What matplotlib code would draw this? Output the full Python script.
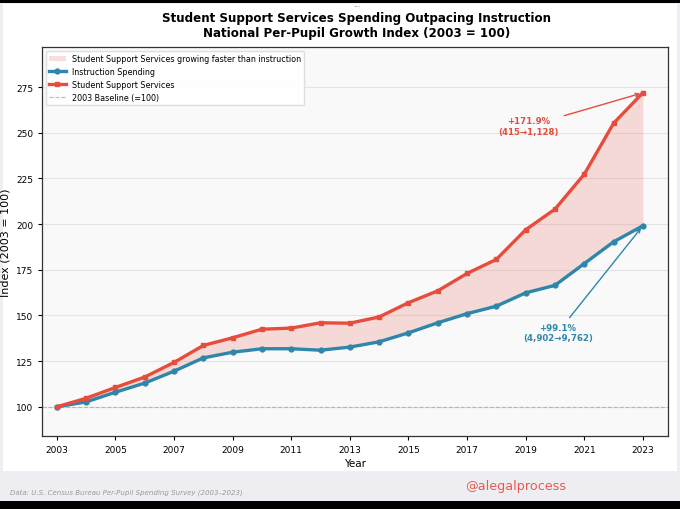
import numpy as np
import matplotlib
matplotlib.use('Agg')
import matplotlib.pyplot as plt
from matplotlib.patches import Rectangle

RED = '#e74c3c'
BLUE = '#2e86ab'

years = list(range(2003, 2024))
instruction = [100, 102.7, 108.0, 113.0, 119.5, 126.8, 129.9, 131.8, 131.8, 131.0,
               132.7, 135.6, 140.5, 146.0, 151.0, 155.1, 162.4, 166.5, 178.4, 190.3, 199.1]
support = [100, 104.7, 110.6, 116.3, 124.3, 133.6, 137.8, 142.5, 143.1, 146.0,
           145.8, 149.2, 157.0, 163.5, 173.0, 180.7, 196.9, 208.2, 227.3, 255.2, 271.9]

ins_label = '+99.1%\n(4,902\u21929,762)'
sup_label = '+171.9%\n(415\u21921,128)'

fig = plt.figure(figsize=(6.8, 5.1), dpi=100)
fig.patch.set_facecolor('#eeeef2')
# white panel behind the chart
fig.patches.append(Rectangle((0.005, 0.075), 0.99, 0.915, transform=fig.transFigure,
                             facecolor='white', edgecolor='none', zorder=-10))
# screenshot bars
fig.patches.append(Rectangle((0, 0), 1, 0.016, transform=fig.transFigure,
                             facecolor='black', edgecolor='none', zorder=-5))
fig.patches.append(Rectangle((0, 0.992), 1, 0.008, transform=fig.transFigure,
                             facecolor='black', edgecolor='none', zorder=-5))

ax = fig.add_axes([0.062, 0.143, 0.92, 0.763])
ax.set_facecolor('#f9f9f9')

x = np.array(years)
ins = np.array(instruction)
sup = np.array(support)

ax.fill_between(x, ins, sup, where=sup >= ins, color=RED, alpha=0.18, linewidth=0,
                label='Student Support Services growing faster than instruction')
ax.plot(x, ins, color=BLUE, lw=2.4, marker='o', ms=3.5, label='Instruction Spending', zorder=3)
ax.plot(x, sup, color=RED, lw=2.4, marker='s', ms=3.5, label='Student Support Services', zorder=3)
ax.axhline(100, color='#aaaaaa', lw=0.8, ls='--', alpha=0.8, label='2003 Baseline (=100)')

ax.annotate(sup_label, xy=(2023, sup[-1]), xytext=(2019.1, 259), color=RED,
            fontsize=6.2, fontweight='bold', ha='center', va='top',
            arrowprops=dict(arrowstyle='->', color=RED, lw=1))
ax.annotate(ins_label, xy=(2023, ins[-1]), xytext=(2020.1, 135.5), color=BLUE,
            fontsize=6.2, fontweight='bold', ha='center', va='bottom',
            arrowprops=dict(arrowstyle='->', color=BLUE, lw=1))

ax.set_xlim(2002.5, 2023.85)
ax.set_ylim(84, 297)
ax.set_xticks(years[::2])
ax.set_yticks([100, 125, 150, 175, 200, 225, 250, 275])
ax.tick_params(labelsize=6.5, length=3)
ax.yaxis.grid(True, color='#e4e4e4', lw=0.8)
ax.set_axisbelow(True)
ax.set_xlabel('Year', fontsize=7.5, labelpad=3)
ax.set_ylabel('Index (2003 = 100)', fontsize=8, labelpad=4)
for s in ax.spines.values():
    s.set_color('#333333')
    s.set_linewidth(0.9)

ax.legend(loc='upper left', fontsize=5.8, framealpha=0.95, edgecolor='#dddddd')

fig.text(0.525, 0.977, 'Student Support Services Spending Outpacing Instruction\n'
         'National Per-Pupil Growth Index (2003 = 100)',
         ha='center', va='top', fontsize=8.6, fontweight='bold', linespacing=1.25)
fig.text(0.525, 0.984, '\u2022\u2022\u2022', ha='center', va='center', fontsize=3, color='#888888')
fig.text(0.015, 0.033, 'Data: U.S. Census Bureau Per-Pupil Spending Survey (2003\u20132023)',
         fontsize=5.0, style='italic', color='#999999', va='center')
fig.text(0.758, 0.047, '@alegalprocess', fontsize=9.2, color='#e85a4f', ha='center', va='center')

fig.savefig('out.png', dpi=100, facecolor=fig.get_facecolor())
